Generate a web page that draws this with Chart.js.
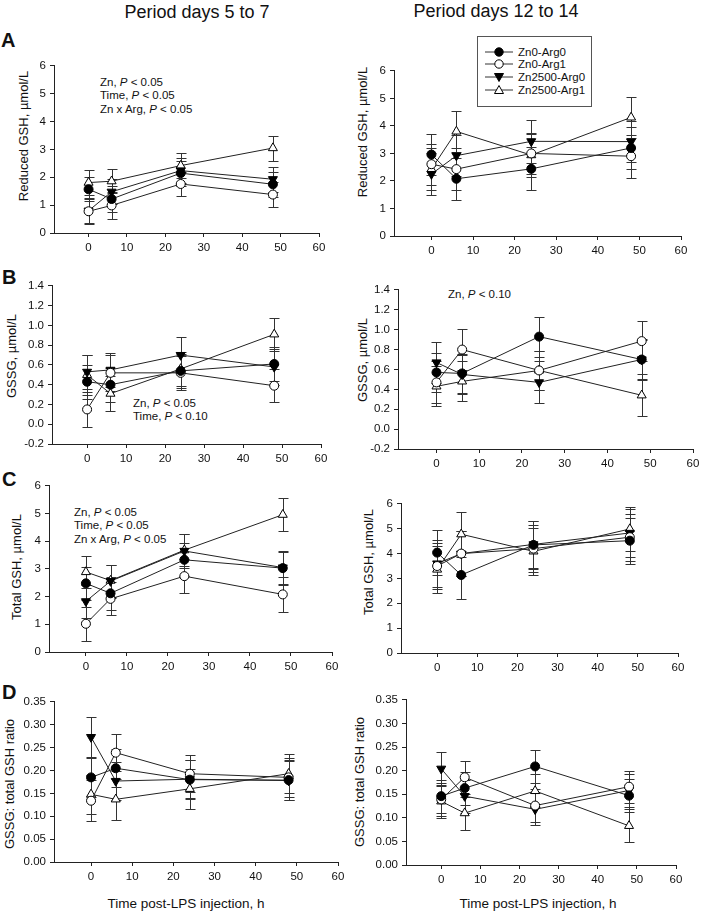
<!DOCTYPE html>
<html>
<head>
<meta charset="utf-8">
<title>GSH panels</title>
<script src="https://cdn.jsdelivr.net/npm/chart.js@4.4.1/dist/chart.umd.min.js"></script>
<style>
  body { margin: 0; background: #fff; font-family: "Liberation Sans", Arial, sans-serif; color: #111; }
  #fig { position: relative; width: 711px; height: 916px; overflow: hidden; }
  #fig canvas { position: absolute; }
  .txt { position: absolute; white-space: nowrap; }
  .title { font-size: 18px; transform: translate(-50%, -50%); }
  .letter { font-size: 20px; font-weight: bold; line-height: 1; }
  .note { font-size: 11.5px; line-height: 13.3px; }
  .ytitle { font-size: 13px; transform: translate(-50%, -50%) rotate(-90deg); }
  .xtitle { font-size: 13.5px; transform: translate(-50%, -50%); }
  #legend { position: absolute; left: 477px; top: 36px; width: 113px; height: 69px; border: 1px solid #555; background: #fff; font-size: 11.5px; }
  #legend .row { position: absolute; left: 7px; height: 12px; line-height: 12px; }
  #legend svg { vertical-align: top; margin-right: 5px; }
</style>
</head>
<body>
<div id="fig">
  <div class="txt title" style="left:197px; top:12px;">Period days 5 to 7</div>
  <div class="txt title" style="left:496px; top:11px;">Period days 12 to 14</div>

  <div class="txt letter" style="left:1px; top:30px;">A</div>
  <div class="txt letter" style="left:2px; top:267px;">B</div>
  <div class="txt letter" style="left:2px; top:469px;">C</div>
  <div class="txt letter" style="left:2px; top:682px;">D</div>

  <div class="txt ytitle" style="left:23px; top:136px;">Reduced GSH, µmol/L</div>
  <div class="txt ytitle" style="left:362px; top:132px;">Reduced GSH, µmol/L</div>
  <div class="txt ytitle" style="left:11px; top:356px;">GSSG, µmol/L</div>
  <div class="txt ytitle" style="left:362px; top:360px;">GSSG, µmol/L</div>
  <div class="txt ytitle" style="left:16px; top:567px;">Total GSH, µmol/L</div>
  <div class="txt ytitle" style="left:368px; top:562px;">Total GSH, µmol/L</div>
  <div class="txt ytitle" style="left:9px; top:784px;">GSSG: total GSH ratio</div>
  <div class="txt ytitle" style="left:359px; top:782px;">GSSG: total GSH ratio</div>

  <div class="txt xtitle" style="left:186px; top:903px;">Time post-LPS injection, h</div>
  <div class="txt xtitle" style="left:538px; top:903px;">Time post-LPS injection, h</div>

  <div class="txt note" style="left:100px; top:76px;">Zn, <i>P</i> &lt; 0.05<br>Time, <i>P</i> &lt; 0.05<br>Zn x Arg, <i>P</i> &lt; 0.05</div>
  <div class="txt note" style="left:133px; top:397px;">Zn, <i>P</i> &lt; 0.05<br>Time, <i>P</i> &lt; 0.10</div>
  <div class="txt note" style="left:448px; top:288px;">Zn, <i>P</i> &lt; 0.10</div>
  <div class="txt note" style="left:74px; top:506px;">Zn, <i>P</i> &lt; 0.05<br>Time, <i>P</i> &lt; 0.05<br>Zn x Arg, <i>P</i> &lt; 0.05</div>

  <div id="legend">
    <div class="row" style="top:9px;"><svg width="28" height="12"><line x1="0" y1="6" x2="28" y2="6" stroke="#333"/><circle cx="14" cy="6" r="4.2" fill="#000" stroke="#000"/></svg>Zn0-Arg0</div>
    <div class="row" style="top:21px;"><svg width="28" height="12"><line x1="0" y1="6" x2="28" y2="6" stroke="#333"/><circle cx="14" cy="6" r="4.2" fill="#fff" stroke="#000"/></svg>Zn0-Arg1</div>
    <div class="row" style="top:34px;"><svg width="28" height="12"><line x1="0" y1="6" x2="28" y2="6" stroke="#333"/><polygon points="9.5,2.5 18.5,2.5 14,10.5" fill="#000" stroke="#000"/></svg>Zn2500-Arg0</div>
    <div class="row" style="top:47px;"><svg width="28" height="12"><line x1="0" y1="6" x2="28" y2="6" stroke="#333"/><polygon points="14,1.5 18.5,9.5 9.5,9.5" fill="#fff" stroke="#000"/></svg>Zn2500-Arg1</div>
  </div>
</div>

<script>
// sampling times and series
const hours = [0, 6, 24, 48];
const seriesNames = ["Zn0-Arg0", "Zn0-Arg1", "Zn2500-Arg0", "Zn2500-Arg1"];

// tick values
const xTicks = [0, 10, 20, 30, 40, 50, 60];
const yTicksGsh = [0, 1, 2, 3, 4, 5, 6];
const yTicksGssg = [-0.2, 0, 0.2, 0.4, 0.6, 0.8, 1.0, 1.2, 1.4];
const yTicksRatio = [0, 0.05, 0.10, 0.15, 0.20, 0.25, 0.30, 0.35];

// A - reduced GSH (rows = series, cols = hours)
const reducedEarly = [[1.57, 1.22, 2.15, 1.75], [0.78, 0.99, 1.76, 1.38], [0.80, 1.48, 2.24, 1.93], [1.81, 1.86, 2.42, 3.05]];
const reducedEarlySe = [[0.43, 0.45, 0.45, 0.45], [0.45, 0.47, 0.44, 0.45], [0.45, 0.45, 0.45, 0.45], [0.45, 0.44, 0.45, 0.45]];
const reducedLate = [[2.96, 2.08, 2.44, 3.20], [2.61, 2.43, 3.00, 2.90], [2.25, 2.92, 3.44, 3.43], [2.43, 3.80, 2.94, 4.31]];
const reducedLateSe = [[0.75, 0.77, 0.78, 0.75], [0.75, 0.75, 0.75, 0.78], [0.75, 0.75, 0.78, 0.75], [0.75, 0.76, 0.78, 0.75]];

// B - GSSG
const gssgEarly = [[0.43, 0.40, 0.54, 0.61], [0.15, 0.52, 0.52, 0.39], [0.53, 0.55, 0.70, 0.58], [0.50, 0.31, 0.56, 0.91]];
const gssgEarlySe = [[0.17, 0.17, 0.17, 0.17], [0.18, 0.18, 0.17, 0.17], [0.17, 0.17, 0.18, 0.18], [0.20, 0.18, 0.17, 0.17]];
const gssgLate = [[0.57, 0.56, 0.93, 0.70], [0.47, 0.80, 0.59, 0.885], [0.67, 0.55, 0.47, 0.70], [0.43, 0.48, 0.59, 0.34]];
const gssgLateSe = [[0.20, 0.20, 0.20, 0.20], [0.21, 0.21, 0.20, 0.20], [0.21, 0.20, 0.21, 0.21], [0.20, 0.20, 0.20, 0.21]];

// C - total GSH
const totalEarly = [[2.48, 2.12, 3.33, 3.03], [1.02, 1.92, 2.74, 2.08], [1.83, 2.56, 3.65, 3.05], [2.89, 2.58, 3.68, 4.96]];
const totalEarlySe = [[0.60, 0.60, 0.60, 0.60], [0.62, 0.60, 0.62, 0.63], [0.60, 0.60, 0.60, 0.60], [0.58, 0.58, 0.58, 0.60]];
const totalLate = [[4.04, 3.14, 4.35, 4.52], [3.50, 4.00, 4.20, 4.66], [3.60, 4.00, 4.37, 4.83], [3.36, 4.78, 4.09, 4.99]];
const totalLateSe = [[0.92, 0.95, 0.95, 0.93], [0.92, 0.92, 0.95, 0.95], [0.93, 0.92, 0.93, 0.95], [0.93, 0.90, 0.95, 0.90]];

// D - GSSG : total GSH ratio
const ratioEarly = [[0.185, 0.205, 0.180, 0.179], [0.134, 0.239, 0.193, 0.185], [0.273, 0.177, 0.181, 0.178], [0.148, 0.137, 0.160, 0.193]];
const ratioEarlySe = [[0.042, 0.042, 0.042, 0.043], [0.045, 0.041, 0.040, 0.042], [0.044, 0.042, 0.042, 0.042], [0.043, 0.045, 0.044, 0.043]];
const ratioLate = [[0.146, 0.163, 0.209, 0.147], [0.139, 0.186, 0.126, 0.166], [0.204, 0.146, 0.118, 0.158], [0.135, 0.110, 0.157, 0.083]];
const ratioLateSe = [[0.035, 0.035, 0.035, 0.035], [0.035, 0.035, 0.035, 0.034], [0.036, 0.035, 0.034, 0.035], [0.035, 0.035, 0.035, 0.035]];

// marker looks per series
const markerStyle = ["circle", "circle", "triangle", "triangle"];
const markerRot = [0, 0, 180, 0];
const markerSize = [4.5, 4.5, 5.2, 5.2];
const markerFill = ["#000", "#fff", "#000", "#fff"];

// plot area of each panel on the page (L, R, T, B)
const panels = [
  { L: 54, R: 319, T: 63, B: 233, means: reducedEarly, errs: reducedEarlySe, yTicks: yTicksGsh, dec: 0 },
  { L: 394, R: 681, T: 68, B: 236, means: reducedLate, errs: reducedLateSe, yTicks: yTicksGsh, dec: 0 },
  { L: 52, R: 321, T: 283, B: 444, means: gssgEarly, errs: gssgEarlySe, yTicks: yTicksGssg, dec: 1 },
  { L: 398, R: 693, T: 287, B: 449, means: gssgLate, errs: gssgLateSe, yTicks: yTicksGssg, dec: 1 },
  { L: 49, R: 332, T: 483, B: 652, means: totalEarly, errs: totalEarlySe, yTicks: yTicksGsh, dec: 0 },
  { L: 401, R: 678, T: 501, B: 653, means: totalLate, errs: totalLateSe, yTicks: yTicksGsh, dec: 0 },
  { L: 54, R: 338, T: 699, B: 862, means: ratioEarly, errs: ratioEarlySe, yTicks: yTicksRatio, dec: 2 },
  { L: 406, R: 676, T: 697, B: 865, means: ratioLate, errs: ratioLateSe, yTicks: yTicksRatio, dec: 2 }
];

// draws SE bars under the markers
const errorBars = {
  id: "errorBars",
  beforeDatasetsDraw(chart) {
    const ctx = chart.ctx;
    const xs = chart.scales.x, ys = chart.scales.y;
    ctx.save();
    ctx.strokeStyle = "#333";
    ctx.lineWidth = 1;
    chart.data.datasets.forEach(ds => {
      ds.data.forEach((pt, j) => {
        const e = ds.errors[j];
        const x = Math.round(xs.getPixelForValue(pt.x)) + 0.5;
        const yTop = Math.round(ys.getPixelForValue(pt.y + e)) + 0.5;
        const yBot = Math.round(ys.getPixelForValue(pt.y - e)) + 0.5;
        ctx.beginPath();
        ctx.moveTo(x, yTop); ctx.lineTo(x, yBot);
        ctx.moveTo(x - 5, yTop); ctx.lineTo(x + 5, yTop);
        ctx.moveTo(x - 5, yBot); ctx.lineTo(x + 5, yBot);
        ctx.stroke();
      });
    });
    ctx.restore();
  }
};

const fig = document.getElementById("fig");
const tickFont = { family: "'Liberation Sans', Arial, sans-serif", size: 11.5 };

function makePanel(p) {
  const yw = 45;
  const cv = document.createElement("canvas");
  const left = p.L - yw, top = p.T - 8;
  cv.width = p.R - left + 12;
  cv.height = p.B - top + 26;
  cv.style.left = left + "px";
  cv.style.top = top + "px";
  fig.appendChild(cv);

  const datasets = seriesNames.map((name, i) => ({
    label: name,
    data: hours.map((hr, j) => ({ x: hr, y: p.means[i][j] })),
    errors: p.errs[i],
    borderColor: "#222",
    borderWidth: 1,
    pointStyle: markerStyle[i],
    rotation: markerRot[i],
    pointRadius: markerSize[i],
    pointBackgroundColor: markerFill[i],
    pointBorderColor: "#000",
    pointBorderWidth: 1,
    fill: false,
    tension: 0,
    clip: false
  }));

  const yTicks = p.yTicks;
  new Chart(cv, {
    type: "line",
    data: { datasets: datasets },
    plugins: [errorBars],
    options: {
      responsive: false,
      animation: false,
      devicePixelRatio: 1,
      layout: { padding: { top: 8, right: 12, left: 0, bottom: 0 } },
      plugins: { legend: { display: false }, tooltip: { enabled: false } },
      scales: {
        x: {
          type: "linear",
          min: -9,
          max: 60,
          afterBuildTicks: s => { s.ticks = xTicks.map(v => ({ value: v })); },
          afterFit: s => { s.height = 26; },
          grid: { drawOnChartArea: false, tickLength: 4, color: "#222" },
          border: { color: "#222", width: 1 },
          ticks: { color: "#111", font: tickFont, padding: 4, maxRotation: 0, autoSkip: false }
        },
        y: {
          type: "linear",
          min: yTicks[0],
          max: yTicks[yTicks.length - 1],
          afterBuildTicks: s => { s.ticks = yTicks.map(v => ({ value: v })); },
          afterFit: s => { s.width = yw; },
          grid: { drawOnChartArea: false, tickLength: 4, color: "#222" },
          border: { color: "#222", width: 1 },
          ticks: {
            color: "#111",
            font: tickFont,
            padding: 4,
            autoSkip: false,
            callback: v => Number(v).toFixed(p.dec)
          }
        }
      }
    }
  });
}

panels.forEach(makePanel);
</script>
</body>
</html>
